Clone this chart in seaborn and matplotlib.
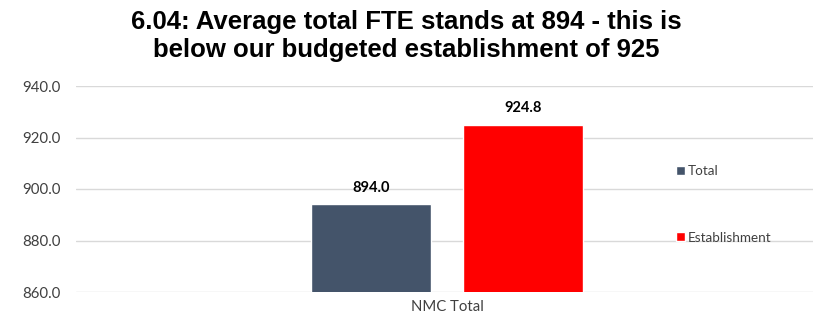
import matplotlib
matplotlib.use("Agg")
import matplotlib.pyplot as plt
import seaborn as sns
import pandas as pd

categories = ["NMC Total"]
series = ["Total", "Establishment"]
values = [894.0, 924.8]
colors = ["#44546A", "#FF0000"]
yticks = [860, 880, 900, 920, 940]

df = pd.DataFrame({"cat": categories * len(series), "series": series, "value": values})

sns.set_theme(style="white")
plt.rcParams["font.family"] = ["Lato", "DejaVu Sans"]

fig = plt.figure(figsize=(8.13, 3.22), dpi=100)
ax = fig.add_axes([76 / 813, 30 / 322, 737 / 813, 206 / 322])

sns.barplot(data=df, x="cat", y="value", hue="series", palette=colors,
            width=0.8, gap=0.21, ax=ax, saturation=1)

ax.set_ylim(860, 940)
ax.set_yticks(yticks)
ax.set_yticklabels([f"{v:.1f}" for v in yticks], fontsize=10.8, color="#404040")
ax.set_xlim(-0.976, 0.963)
ax.tick_params(axis="x", labelsize=10.7, colors="#404040", length=0, pad=6)
ax.tick_params(axis="y", length=0, pad=11)
ax.set_xlabel("")
ax.set_ylabel("")
ax.yaxis.grid(True, color="#D9D9D9", linewidth=1)
ax.set_axisbelow(True)
for s in ax.spines.values():
    s.set_visible(False)

for c in ax.containers:
    ax.bar_label(c, fmt="%.1f", padding=7, fontsize=10.5, fontweight="bold", color="#000000")

sns.move_legend(ax, "upper left", bbox_to_anchor=(676 / 813, 1 - 165 / 322), bbox_transform=fig.transFigure,
                frameon=False, title=None, fontsize=9.7, handlelength=0.65, handleheight=0.65,
                handletextpad=0.2, labelspacing=4.05, borderpad=0, borderaxespad=0)
for t in ax.get_legend().get_texts():
    t.set_color("#404040")

fig.text(0.5, 1 - 36 / 322, "6.04: Average total FTE stands at 894 - this is\nbelow our budgeted establishment of 925",
         ha="center", va="center", fontsize=18.5, fontweight="bold", color="#000000",
         family=["Liberation Sans", "DejaVu Sans"], linespacing=1.2)

fig.savefig("out.png", dpi=100)
